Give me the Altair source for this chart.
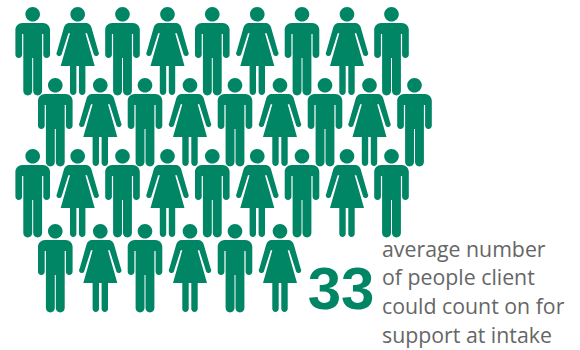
import altair as alt
import pandas as pd

GREEN = "#008565"
GREY = "#666666"

# Figure rows: horizontal centres, vertical centre and the alternating man/woman order
row_xs = [
    [32.7, 77.7, 122.5, 167.5, 212.3, 257.3, 302, 347, 391.5],
    [55.3, 100.3, 145, 190, 235, 280, 325, 369.5, 414.5],
    [32.7, 77.7, 122.5, 167.5, 212.3, 257.3, 302, 347, 391.5],
    [55.3, 100.3, 145, 190, 235, 280],
]
row_ys = [51, 122, 193, 268]

headline = ["33"]
caption_lines = [
    "average number",
    "of people client",
    "could count on for",
    "support at intake",
]
caption_baselines = [257, 285, 314, 343]

HALF_HEIGHT = 44.0


def u(v):
    """Pixel length to Vega's unit symbol space."""
    return f"{v / HALF_HEIGHT:.4f}"


def path(*steps):
    """Assemble a symbol path from (command, x, y) and (radius, x, y) arc steps."""
    out = []
    for cmd, x, y in steps:
        if isinstance(cmd, str):
            out.append(f"{cmd}{u(x)},{u(y)}")
        else:
            out.append(f"A{u(cmd)},{u(cmd)} 0 0 1 {u(x)},{u(y)}")
    return " ".join(out)


HEAD = path(("M", -7.3, -36.7), (7.3, 7.3, -36.7), (7.3, -7.3, -36.7)) + " Z "

MAN = HEAD + path(
    ("M", -10.3, -28), ("L", 10.3, -28), (7, 17.3, -21),
    ("L", 17.3, 3.7), (3.35, 10.6, 3.7),
    ("L", 10.6, -17), ("L", 9.4, -17), ("L", 9.4, 40), (4.45, 0.5, 40),
    ("L", 0.5, 7), ("L", -0.5, 7), ("L", -0.5, 40), (4.45, -9.4, 40),
    ("L", -9.4, -17), ("L", -10.6, -17), ("L", -10.6, 3.7), (3.35, -17.3, 3.7),
    ("L", -17.3, -21), (7, -10.3, -28),
) + " Z"

WOMAN = HEAD + path(
    ("M", -9, -28), ("L", 9, -28), (6, 13.7, -23.7),
    ("L", 20.7, 0.7), (2.6, 16.3, 4),
    ("L", 9.3, -17.7), ("L", 7.7, -17.7), ("L", 17, 15), ("L", 7.7, 15),
    ("L", 7.7, 40.8), (3.2, 1.3, 40.8),
    ("L", 1.3, 15), ("L", -1.3, 15), ("L", -1.3, 40.8), (3.2, -7.7, 40.8),
    ("L", -7.7, 15), ("L", -17, 15), ("L", -7.7, -17.7), ("L", -9.3, -17.7),
    ("L", -16.3, 4), (2.6, -20.7, 0.7),
    ("L", -13.7, -23.7), (6, -9, -28),
) + " Z"

people = pd.DataFrame(
    [
        {"x": x, "y": y, "kind": "man" if i % 2 == 0 else "woman"}
        for xs, y in zip(row_xs, row_ys)
        for i, x in enumerate(xs)
    ]
)
captions = pd.DataFrame(
    {"text": caption_lines, "x": [382] * 4, "y": caption_baselines}
)
big_number = pd.DataFrame({"text": headline, "x": [341], "y": [309]})

x_scale = alt.Scale(domain=[0, 580], range=[0, 580])
y_scale = alt.Scale(domain=[0, 350], range=[0, 350])
x_enc = alt.X("x:Q", scale=x_scale, axis=None)
y_enc = alt.Y("y:Q", scale=y_scale, axis=None)

figures = (
    alt.Chart(people)
    .mark_point(filled=True, opacity=1, color=GREEN, size=88 * 88)
    .encode(
        x=x_enc,
        y=y_enc,
        shape=alt.Shape(
            "kind:N",
            scale=alt.Scale(domain=["man", "woman"], range=[MAN, WOMAN]),
            legend=None,
        ),
    )
)

number = (
    alt.Chart(big_number)
    .mark_text(
        font="Liberation Sans",
        fontWeight="bold",
        fontSize=60,
        color=GREEN,
        align="center",
        baseline="alphabetic",
    )
    .encode(x=x_enc, y=y_enc, text="text:N")
)

caption = (
    alt.Chart(captions)
    .mark_text(
        font="Open Sans",
        fontSize=21.3,
        color=GREY,
        align="left",
        baseline="alphabetic",
    )
    .encode(x=x_enc, y=y_enc, text="text:N")
)

chart = (
    (figures + number + caption)
    .properties(
        width=580,
        height=350,
        padding=0,
        autosize=alt.AutoSizeParams(type="none"),
        background="white",
    )
    .configure_view(stroke=None)
)

chart.save("out.html", embed_options={"renderer": "svg", "actions": False})
